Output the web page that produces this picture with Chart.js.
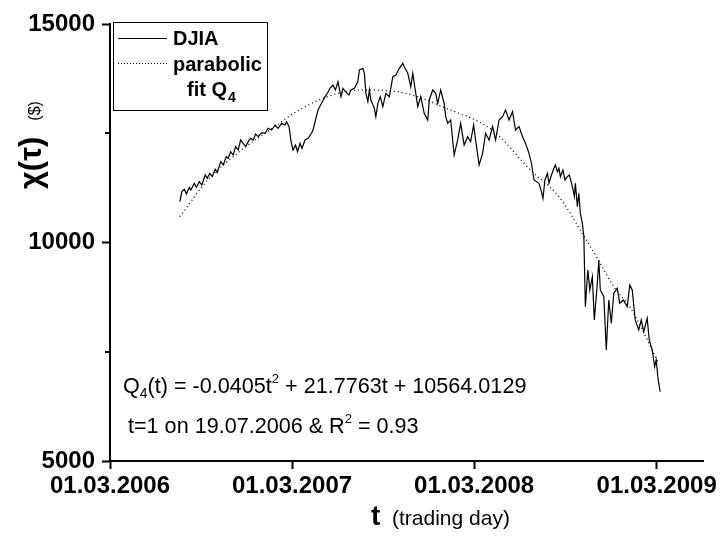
<!DOCTYPE html>
<html>
<head>
<meta charset="utf-8">
<script src="https://cdn.jsdelivr.net/npm/chart.js@4"></script>
<style>
  html, body { margin: 0; padding: 0; background: #fff; }
  #wrap { width: 721px; height: 536px; }
</style>
</head>
<body>
<div id="wrap"><canvas id="djiaChart" width="721" height="536"></canvas></div>
<script>
// calendar days counted from 01.03.2006 (x axis)
const djiaDay = [140,144,149,153,159,162,169,173,179,184,191,195,200,205,211,215,222,227,233,237,
  242,247,252,257,262,267,272,277,282,287,292,297,304,311,317,324,331,337,344,351,
  354,359,363,367,372,376,381,385,391,397,404,407,412,417,424,431,436,441,447,452,
  457,463,467,472,479,483,490,497,500,507,510,513,517,520,523,530,533,537,542,547,
  553,560,567,573,580,587,590,597,603,607,613,617,623,630,637,640,647,653,657,663,
  670,673,677,683,687,690,697,703,710,717,723,729,733,740,747,753,760,767,773,780,
  787,793,800,807,813,820,827,833,840,845,850,860,865,868,872,877,880,885,890,893,
  897,900,903,908,912,917,921,927,931,933,937,940,943,947,950,953,958,962,967,971,
  977,980,983,990,995,1000,1005,1010,1017,1022,1029,1037,1042,1047,1053,1060,1065,1070,1077,1081,
  1087,1092,1095,1099,1103];
const djiaVal = [10934,11164,11218,11110,11264,11202,11355,11264,11392,11316,11545,11470,11584,11507,11674,11598,11850,11774,11964,11927,
  12078,12002,12193,12117,12346,12270,12193,12307,12385,12346,12483,12422,12514,12499,12613,12575,12689,12613,12728,12689,
  12765,12651,12307,12117,12231,12078,12270,12155,12346,12385,12499,12575,12803,13032,13185,13337,13414,13529,13604,13490,
  13681,13337,13529,13452,13376,13490,13529,13681,13948,13986,13872,13414,13222,13490,13261,13071,12879,13185,13337,13108,
  13414,13337,13794,13833,13986,14101,14023,13872,13566,13872,13414,13108,13337,12957,12803,13261,13490,13414,13185,13490,
  13185,12879,12728,12803,12346,12002,12346,12728,12231,12422,12307,12689,12346,11774,12041,12499,12346,12651,12346,12803,
  12879,13032,12803,12994,12575,12651,12422,12270,12041,11813,11431,11355,11164,11012,11431,11584,11355,11545,11698,11774,
  11621,11698,11507,11660,11431,11507,11545,11278,11049,11355,10820,11126,10668,10439,10134,8532,9371,8914,9218,8227,
  9066,9600,8914,8761,7541,8685,8151,8838,8952,8609,8685,8532,9028,8914,8227,7999,8227,7960,8266,7770,
  7541,7159,7312,6855,6587];

// dotted parabolic fit Q4
const fitDay = [140,196,264,330,370,436,504,570,616,666,766,846,900,950,986,1010,1046,1100];
const fitVal = [10590,11430,12120,12650,12970,13337,13490,13460,13337,13108,12575,11621,11049,10150,9460,8990,8456,7236];

const xTickDays   = [0, 365, 730, 1096];
const xTickLabels = ['01.03.2006', '01.03.2007', '01.03.2008', '01.03.2009'];
const yTicks      = [5000, 7500, 10000, 12500, 15000];
const yMajorStep  = 5000;

const FONT = "'Liberation Sans', Arial, sans-serif";

const pts = (xs, ys) => xs.map((x, i) => ({ x, y: ys[i] }));

// extra drawing: minor y ticks, legend box, axis titles and the fit formula
const decorPlugin = {
  id: 'decor',
  afterDraw(chart) {
    const ctx = chart.ctx;
    const ys = chart.scales.y;
    const left = chart.chartArea.left;

    ctx.save();
    ctx.strokeStyle = '#000';
    ctx.lineWidth = 2;
    yTicks.filter(v => v % yMajorStep !== 0).forEach(v => {
      const py = Math.round(ys.getPixelForValue(v));
      ctx.beginPath();
      ctx.moveTo(left - 5, py);
      ctx.lineTo(left, py);
      ctx.stroke();
    });

    // legend
    ctx.lineWidth = 1;
    ctx.strokeRect(113.5, 22.5, 154, 88);
    ctx.beginPath();
    ctx.moveTo(118, 38.5); ctx.lineTo(167, 38.5);
    ctx.stroke();
    ctx.setLineDash([1, 2]);
    ctx.beginPath();
    ctx.moveTo(118, 63.5); ctx.lineTo(167, 63.5);
    ctx.stroke();
    ctx.setLineDash([]);

    ctx.fillStyle = '#000';
    ctx.textBaseline = 'alphabetic';
    ctx.textAlign = 'left';
    ctx.font = 'bold 20px ' + FONT;
    ctx.fillText('DJIA', 173, 45);
    ctx.fillText('parabolic', 173, 71);
    ctx.fillText('fit Q', 187, 96);
    let w = ctx.measureText('fit Q').width;
    ctx.font = 'bold 14px ' + FONT;
    ctx.fillText('4', 187 + w + 1, 102);

    // formula
    let x = 123;
    const put = (txt, size, base, dy) => {
      ctx.font = size + 'px ' + FONT;
      ctx.fillText(txt, x, base + dy);
      x += ctx.measureText(txt).width;
    };
    put('Q', 21.6, 393, 0);
    put('4', 14, 393, 5);
    put('(t) = -0.0405t', 21.6, 393, 0);
    put('2', 13, 393, -10);
    put(' + 21.7763t + 10564.0129', 21.6, 393, 0);

    x = 128;
    put('t=1 on 19.07.2006 & R', 21.6, 433, 0);
    put('2', 13, 433, -10);
    put(' = 0.93', 21.6, 433, 0);

    // x title
    ctx.font = 'bold 28px ' + FONT;
    ctx.fillText('t', 371, 525);
    ctx.font = '21px ' + FONT;
    ctx.fillText('(trading day)', 392, 525);

    // y title
    ctx.translate(41, 189);
    ctx.rotate(-Math.PI / 2);
    ctx.font = 'bold 31px ' + FONT;
    ctx.fillText('\u03C7(\u03C4)', 0, 0);
    const tw = ctx.measureText('\u03C7(\u03C4)').width;
    ctx.font = '16px ' + FONT;
    ctx.fillText('($)', tw + 16, -1);
    ctx.restore();
  }
};

new Chart(document.getElementById('djiaChart'), {
  type: 'line',
  data: {
    datasets: [
      {
        label: 'DJIA',
        data: pts(djiaDay, djiaVal),
        borderColor: '#000',
        borderWidth: 1.2,
        pointRadius: 0,
        tension: 0,
        fill: false
      },
      {
        label: 'parabolic fit Q4',
        data: pts(fitDay, fitVal),
        borderColor: '#000',
        borderWidth: 1.3,
        borderDash: [1, 3],
        pointRadius: 0,
        cubicInterpolationMode: 'monotone',
        fill: false
      }
    ]
  },
  plugins: [decorPlugin],
  options: {
    responsive: false,
    animation: false,
    layout: { padding: { top: 24, right: 16, left: 0, bottom: 0 } },
    plugins: { legend: { display: false }, tooltip: { enabled: false } },
    scales: {
      x: {
        type: 'linear',
        min: 0,
        max: 1190,
        afterFit: s => { s.height = 75; },
        afterBuildTicks: s => { s.ticks = xTickDays.map(v => ({ value: v })); },
        grid: { display: true, drawOnChartArea: false, tickLength: 8, tickWidth: 2, tickColor: '#000' },
        border: { display: true, color: '#000', width: 2 },
        ticks: {
          color: '#000',
          padding: 3,
          maxRotation: 0,
          autoSkip: false,
          font: { family: FONT, size: 24, weight: 'bold' },
          callback: v => xTickLabels[xTickDays.indexOf(v)] || ''
        }
      },
      y: {
        min: 5000,
        max: 15000,
        afterFit: s => { s.width = 110; },
        afterBuildTicks: s => { s.ticks = yTicks.map(v => ({ value: v })); },
        grid: {
          display: true, drawOnChartArea: false, tickLength: 8, tickWidth: 2,
          tickColor: c => (c.tick && c.tick.value % yMajorStep === 0) ? '#000' : 'rgba(0,0,0,0)'
        },
        border: { display: true, color: '#000', width: 2 },
        ticks: {
          color: '#000',
          padding: 7,
          autoSkip: false,
          font: { family: FONT, size: 24, weight: 'bold' },
          callback: v => (v % yMajorStep === 0 ? String(v) : '')
        }
      }
    }
  }
});
</script>
</body>
</html>
